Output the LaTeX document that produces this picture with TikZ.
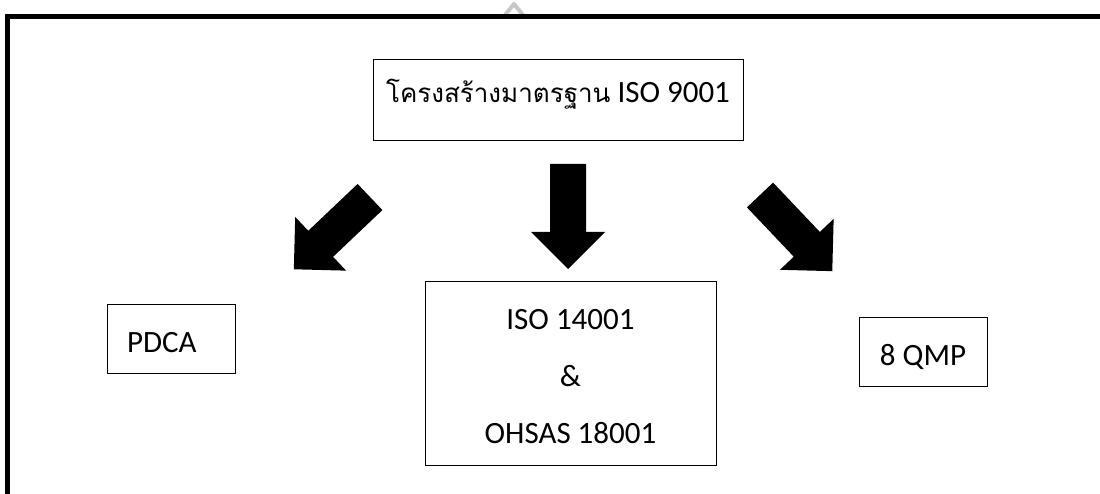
\documentclass[tikz,border=0pt]{standalone}
\usepackage{fontspec}
\setmainfont{Carlito}
\newfontfamily\thaifont[Script=Thai]{Loma}
\newcommand\blockarrow[2]{%
  \fill[bigarrow, shift={(#1)}, rotate=#2]
    (0,18) -- (68,18) -- (68,37) -- (105,0) -- (68,-37) -- (68,-18) -- (0,-18) -- cycle;}
\begin{document}
\begin{tikzpicture}[x=1pt,y=-1pt,
  box/.style={draw=black, line width=1pt, inner sep=0pt, font=\fontsize{31}{37}\selectfont},
  bigarrow/.style={fill=black},
  frame/.style={draw=black, line width=5pt, line join=miter},
  wmark/.style={draw=black!22, line width=4pt, line join=round}]
\useasboundingbox (0,0) rectangle (1100,494);
% faint watermark at the top
\draw[wmark] (505,15) -- (514,4) -- (523,15);
% outer frame
\draw[frame] (7.5,494) -- (7.5,16.5) -- (1100,16.5);
% boxes
\node[box, minimum width=370pt, minimum height=81pt, text height=20pt, text depth=15pt] (top) at (558,100.5)
  {{\thaifont\fontsize{26}{31}\selectfont โครงสร้างมาตรฐาน} ISO 9001};
\node[box, minimum width=128pt, minimum height=69pt, text width=88pt, align=left,
  text height=27pt, text depth=0pt] (pdca) at (171,338.5) {PDCA};
\node[box, minimum width=291pt, minimum height=183pt, align=center,
  font=\fontsize{31}{57}\selectfont] (iso) at (570.5,373.5) {\rule{0pt}{27pt}ISO 14001\\\&\\OHSAS 18001};
\node[box, minimum width=128pt, minimum height=69pt, text height=27pt, text depth=0pt] (qmp) at (923,351.5) {8 QMP};
% block arrows
\coordinate (la) at (370,197);
\coordinate (ca) at (568,164);
\coordinate (ra) at (760,195);
\blockarrow{la}{223.5}
\blockarrow{ca}{-90}
\blockarrow{ra}{-46.5}
\end{tikzpicture}
\end{document}
